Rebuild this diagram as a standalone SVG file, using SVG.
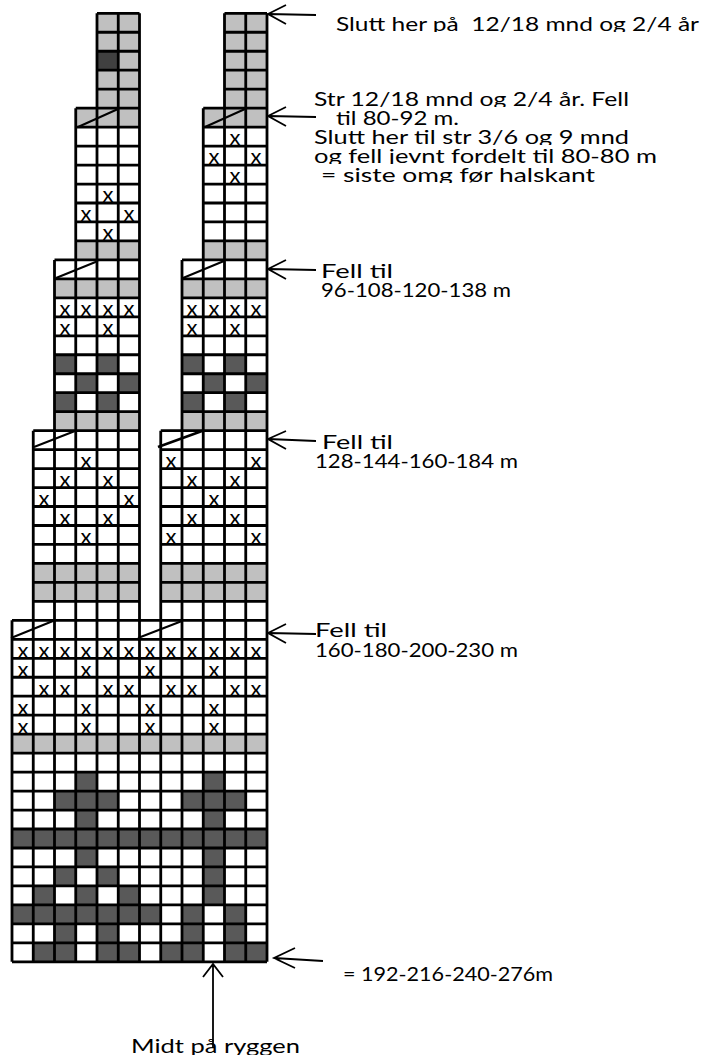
<svg xmlns="http://www.w3.org/2000/svg" width="719" height="1064" viewBox="0 0 719 1064">
<style>
.g{fill:#c0c0c0}
.d{fill:#595959}
.l{fill:none;stroke:#000;stroke-width:2.8;vector-effect:non-scaling-stroke}
.s{fill:none;stroke:#000;stroke-width:2}
.a{fill:none;stroke:#000;stroke-width:1.8}
text{font-family:"Lato","Liberation Sans",sans-serif;fill:#000}
.t{font-size:19px}
.x{font-size:22px;text-anchor:middle}
</style>
<defs>
<clipPath id="bands">
<rect x="300" y="0" width="419" height="32"/>
<rect x="300" y="90" width="419" height="17"/>
<rect x="300" y="110" width="419" height="35"/>
<rect x="300" y="148" width="419" height="16"/>
<rect x="300" y="167" width="419" height="16"/>
<rect x="0" y="260" width="719" height="795"/>
</clipPath>
</defs>
<rect width="719" height="1064" fill="#fff"/>
<g id="chart">
<g id="fills" transform="translate(12,13.3) scale(21.25,18.97)">
<path class="g" d="M4 0H6V5H4ZM10 0H12V5H10ZM3 5H6V6H3ZM9 5H12V6H9ZM3 12H6V13H3ZM9 12H12V13H9ZM2 14H6V15H2ZM8 14H12V15H8ZM2 21H6V22H2ZM8 21H12V22H8ZM1 29H6V31H1ZM7 29H12V31H7ZM0 38H12V39H0Z"/>
<rect x="4" y="2" width="1" height="1" fill="#404040"/>
<path class="d" d="M2 18h1v1h-1zM4 18h1v1h-1zM8 18h1v1h-1zM10 18h1v1h-1zM3 19h1v1h-1zM5 19h1v1h-1zM9 19h1v1h-1zM11 19h1v1h-1zM2 20h1v1h-1zM4 20h1v1h-1zM8 20h1v1h-1zM10 20h1v1h-1zM3 40h1v1h-1zM9 40h1v1h-1zM2 41h3v1h-3zM8 41h3v1h-3zM3 42h1v1h-1zM9 42h1v1h-1zM0 43h12v1h-12zM3 44h1v1h-1zM9 44h1v1h-1zM2 45h1v1h-1zM4 45h1v1h-1zM9 45h1v1h-1zM1 46h1v1h-1zM3 46h1v1h-1zM5 46h1v1h-1zM9 46h1v1h-1zM0 47h7v1h-7zM8 47h1v1h-1zM10 47h1v1h-1zM2 48h1v1h-1zM4 48h1v1h-1zM8 48h1v1h-1zM10 48h1v1h-1zM1 49h2v1h-2zM4 49h2v1h-2zM7 49h2v1h-2zM10 49h2v1h-2z"/>
<path class="l" d="M4 0H6M10 0H12M4 1H6M10 1H12M4 2H6M10 2H12M4 3H6M10 3H12M4 4H6M10 4H12M3 5H6M9 5H12M3 6H6M9 6H12M3 7H6M9 7H12M3 8H6M9 8H12M3 9H6M9 9H12M3 10H6M9 10H12M3 11H6M9 11H12M3 12H6M9 12H12M2 13H6M8 13H12M2 14H6M8 14H12M2 15H6M8 15H12M2 16H6M8 16H12M2 17H6M8 17H12M2 18H6M8 18H12M2 19H6M8 19H12M2 20H6M8 20H12M2 21H6M8 21H12M1 22H6M7 22H12M1 23H6M7 23H12M1 24H6M7 24H12M1 25H6M7 25H12M1 26H6M7 26H12M1 27H6M7 27H12M1 28H6M7 28H12M1 29H6M7 29H12M1 30H6M7 30H12M1 31H6M7 31H12M0 32H12M0 33H12M0 34H12M0 35H12M0 36H12M0 37H12M0 38H12M0 39H12M0 40H12M0 41H12M0 42H12M0 43H12M0 44H12M0 45H12M0 46H12M0 47H12M0 48H12M0 49H12M0 50H12M0 32V50M1 22V50M2 13V50M3 5V50M4 0V50M5 0V50M6 0V50M7 22V50M8 13V50M9 5V50M10 0V50M11 0V50M12 0V50"/>
</g>
<g id="diagonals">
<path class="s" d="M78 127L118 109M205 127L245 109M56 278L98 261M183 278L224 261M34 447L75 431M11 638L53 621M138 638L182 621"/>
<path fill="none" stroke="#000" stroke-width="2.6" d="M158 447L202 431"/>
</g>
<g id="marks">
<text class="x" x="235" y="145">x</text>
<text class="x" x="214" y="164">x</text><text class="x" x="256" y="164">x</text>
<text class="x" x="235" y="183">x</text>
<text class="x" x="108" y="202">x</text>
<text class="x" x="86" y="221">x</text><text class="x" x="129" y="221">x</text>
<text class="x" x="108" y="240">x</text>
<text class="x" x="65" y="316">x</text><text class="x" x="86" y="316">x</text><text class="x" x="108" y="316">x</text><text class="x" x="129" y="316">x</text>
<text class="x" x="192" y="316">x</text><text class="x" x="214" y="316">x</text><text class="x" x="235" y="316">x</text><text class="x" x="256" y="316">x</text>
<text class="x" x="65" y="335">x</text><text class="x" x="108" y="335">x</text><text class="x" x="192" y="335">x</text><text class="x" x="235" y="335">x</text>
<text class="x" x="86" y="468">x</text><text class="x" x="171" y="468">x</text><text class="x" x="256" y="468">x</text>
<text class="x" x="65" y="487">x</text><text class="x" x="108" y="487">x</text><text class="x" x="192" y="487">x</text><text class="x" x="235" y="487">x</text>
<text class="x" x="44" y="506">x</text><text class="x" x="129" y="506">x</text><text class="x" x="214" y="506">x</text>
<text class="x" x="65" y="525">x</text><text class="x" x="108" y="525">x</text><text class="x" x="192" y="525">x</text><text class="x" x="235" y="525">x</text>
<text class="x" x="86" y="544">x</text><text class="x" x="171" y="544">x</text><text class="x" x="256" y="544">x</text>
<text class="x" x="23" y="658">x</text><text class="x" x="44" y="658">x</text><text class="x" x="65" y="658">x</text><text class="x" x="86" y="658">x</text><text class="x" x="108" y="658">x</text><text class="x" x="129" y="658">x</text><text class="x" x="150" y="658">x</text><text class="x" x="171" y="658">x</text><text class="x" x="192" y="658">x</text><text class="x" x="214" y="658">x</text><text class="x" x="235" y="658">x</text><text class="x" x="256" y="658">x</text>
<text class="x" x="23" y="677">x</text><text class="x" x="86" y="677">x</text><text class="x" x="150" y="677">x</text><text class="x" x="214" y="677">x</text>
<text class="x" x="44" y="696">x</text><text class="x" x="65" y="696">x</text><text class="x" x="108" y="696">x</text><text class="x" x="129" y="696">x</text><text class="x" x="171" y="696">x</text><text class="x" x="192" y="696">x</text><text class="x" x="235" y="696">x</text><text class="x" x="256" y="696">x</text>
<text class="x" x="23" y="715">x</text><text class="x" x="86" y="715">x</text><text class="x" x="150" y="715">x</text><text class="x" x="214" y="715">x</text>
<text class="x" x="23" y="734">x</text><text class="x" x="86" y="734">x</text><text class="x" x="150" y="734">x</text><text class="x" x="214" y="734">x</text>
</g>
</g>
<g id="connectors">
<path class="a" d="M316 15L268 14M286 5L268 14L286 24"/>
<path class="a" d="M316 117L268 116M286 107L268 116L286 126"/>
<path class="a" d="M316 270L268 269M286 260L268 269L286 279"/>
<path class="a" d="M316 441L268 439M286 431L268 439L286 449"/>
<path class="a" d="M316 634L268 633M286 624L268 633L286 643"/>
<path class="a" d="M323 961L274 958M295 948L274 958L295 968"/>
<path class="a" d="M213 1048V964M203 977L213 964L223 977"/>
</g>
<g id="labels" clip-path="url(#bands)">
<text class="t" x="336" y="31" textLength="363" lengthAdjust="spacingAndGlyphs" xml:space="preserve">Slutt her på  12/18 mnd og 2/4 år</text>
<text class="t" x="314" y="106" textLength="315" lengthAdjust="spacingAndGlyphs">Str 12/18 mnd og 2/4 år. Fell</text>
<text class="t" x="336" y="125" textLength="123" lengthAdjust="spacingAndGlyphs">til 80-92 m.</text>
<text class="t" x="314" y="144" textLength="315" lengthAdjust="spacingAndGlyphs">Slutt her til str 3/6 og 9 mnd</text>
<text class="t" x="314" y="163" textLength="343" lengthAdjust="spacingAndGlyphs">og fell jevnt fordelt til 80-80 m</text>
<text class="t" x="321" y="182" textLength="274" lengthAdjust="spacingAndGlyphs">= siste omg før halskant</text>
<text class="t" x="321" y="278" textLength="72" lengthAdjust="spacingAndGlyphs">Fell til</text>
<text class="t" x="321" y="297" textLength="190" lengthAdjust="spacingAndGlyphs">96-108-120-138 m</text>
<text class="t" x="322" y="449" textLength="71" lengthAdjust="spacingAndGlyphs">Fell til</text>
<text class="t" x="315" y="468" textLength="203" lengthAdjust="spacingAndGlyphs">128-144-160-184 m</text>
<text class="t" x="315" y="637" textLength="72" lengthAdjust="spacingAndGlyphs">Fell til</text>
<text class="t" x="315" y="657" textLength="203" lengthAdjust="spacingAndGlyphs">160-180-200-230 m</text>
<text class="t" x="343" y="981" textLength="210" lengthAdjust="spacingAndGlyphs">= 192-216-240-276m</text>
<text class="t" x="131" y="1053" textLength="169" lengthAdjust="spacingAndGlyphs">Midt på ryggen</text>
</g>
</svg>
